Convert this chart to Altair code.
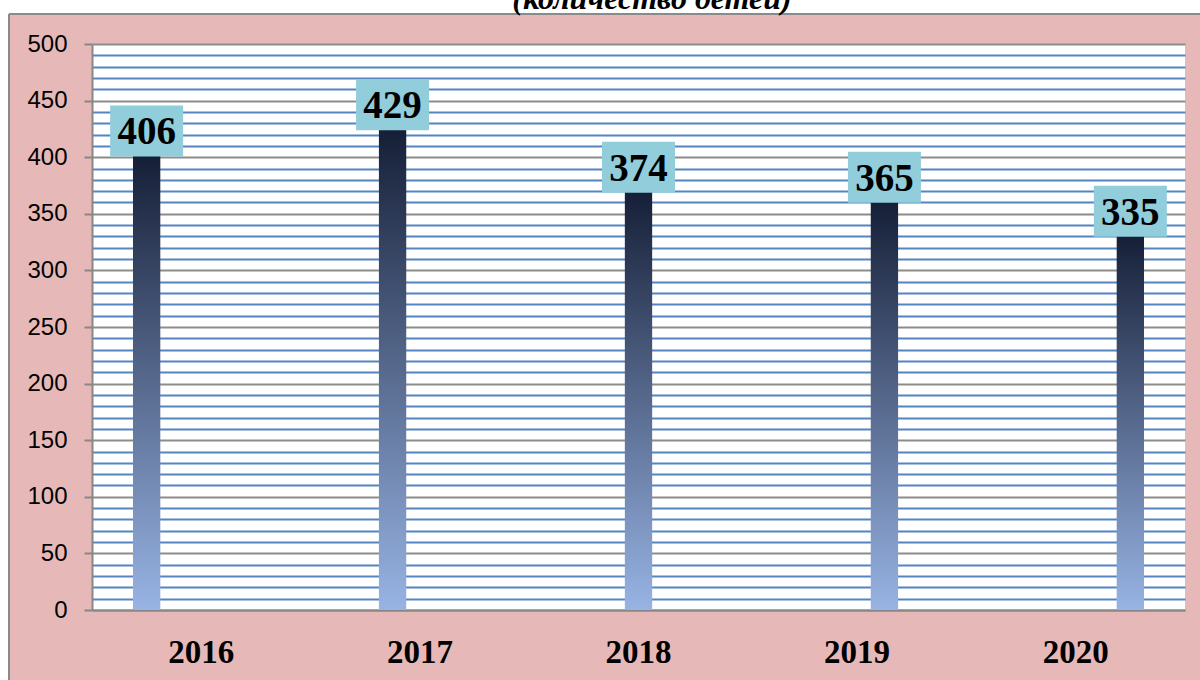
import altair as alt
import pandas as pd

years = ["2016", "2017", "2018", "2019", "2020"]
counts = [406, 429, 374, 365, 335]
y_ticks = list(range(0, 501, 10))
title_text = "(количество детей)"

df = pd.DataFrame({"year": years, "count": counts})

PINK = "#E6B9B8"
BOX = "#92CDDC"

x_enc = alt.X("year:N", sort=years,
              scale=alt.Scale(paddingInner=0, paddingOuter=0),
              axis=alt.Axis(title=None, labelFont="Liberation Serif", labelFontWeight="bold",
                            labelFontSize=33, labelColor="black", labelAngle=0,
                            labelBaseline="middle", labelPadding=42, ticks=False,
                            domainColor="#878787", domainWidth=2, grid=False))
# sub-band layout inside each year band (Excel-like staggered bar position)
offset_domain = ["<"] + years + [">"]
xo_enc = alt.XOffset("year:N", scale=alt.Scale(domain=offset_domain, paddingInner=0, paddingOuter=0.5))

y_scale = alt.Scale(domain=[0, 500], nice=False)
y_axis = alt.Axis(
    title=None, values=y_ticks,
    labelExpr="datum.value % 50 === 0 ? datum.label : ''",
    labelFont="Liberation Sans", labelFontSize=24, labelColor="black", labelPadding=17,
    tickSize=8, tickWidth=2, tickColor="#878787",
    tickOpacity={"condition": {"test": "datum.value % 50 === 0", "value": 1}, "value": 0},
    domainColor="#878787", domainWidth=2,
    grid=True,
    gridColor={"condition": {"test": "datum.value % 50 === 0", "value": "#8C8C8C"}, "value": "#5584C2"},
    gridWidth=2, gridOpacity=1,
)

gradient = alt.Gradient(
    gradient="linear",
    stops=[alt.GradientStop(color="#98B4E4", offset=0),
           alt.GradientStop(color="#141D35", offset=1)],
    x1=0, x2=0, y1=1, y2=0,
)

deco_data = alt.Data(values=[{}])
top_strip = alt.Chart(deco_data).mark_rect(color="white", clip=False).encode(
    x=alt.value(-92), x2=alt.value(1108), y=alt.value(-44), y2=alt.value(-30))
left_strip = alt.Chart(deco_data).mark_rect(color="white", clip=False).encode(
    x=alt.value(-92), x2=alt.value(-83), y=alt.value(-44), y2=alt.value(636))
border_h = alt.Chart(deco_data).mark_rule(color="#8A8A8A", strokeWidth=2, clip=False).encode(
    x=alt.value(-83), x2=alt.value(1108), y=alt.value(-30))
border_v = alt.Chart(deco_data).mark_rule(color="#8A8A8A", strokeWidth=2, clip=False).encode(
    x=alt.value(-83), y=alt.value(-30), y2=alt.value(636))
title_mark = alt.Chart(deco_data).mark_text(
    text=title_text, font="Liberation Serif", fontStyle="italic", fontWeight="bold",
    fontSize=32, color="black", align="center", baseline="alphabetic", clip=False,
).encode(x=alt.value(560), y=alt.value(-35))

base = alt.Chart(df)

bars = base.mark_bar(color=gradient).encode(
    x=x_enc, xOffset=xo_enc,
    y=alt.Y("count:Q", scale=y_scale, axis=y_axis),
)

boxes = base.mark_bar(color=BOX, size=73, yOffset=6, y2Offset=-45).encode(
    x=x_enc, xOffset=xo_enc,
    y=alt.Y("count:Q", scale=y_scale, axis=y_axis),
    y2=alt.Y2("count:Q"),
)

labels = base.mark_text(font="Liberation Serif", fontWeight="bold", fontSize=39,
                        color="black", baseline="middle", dy=-18).encode(
    x=x_enc, xOffset=xo_enc,
    y=alt.Y("count:Q", scale=y_scale, axis=y_axis),
    text=alt.Text("count:Q"),
)

chart = alt.layer(top_strip, left_strip, border_h, border_v, title_mark, bars, boxes, labels).properties(
    width=1093, height=566,
    autosize=alt.AutoSizeParams(type="none"),
    padding={"left": 92, "top": 44, "right": 15, "bottom": 70},
    background=PINK,
).configure_view(fill="white", stroke=None)

chart.save("out.html", embed_options={"renderer": "svg", "actions": False})
